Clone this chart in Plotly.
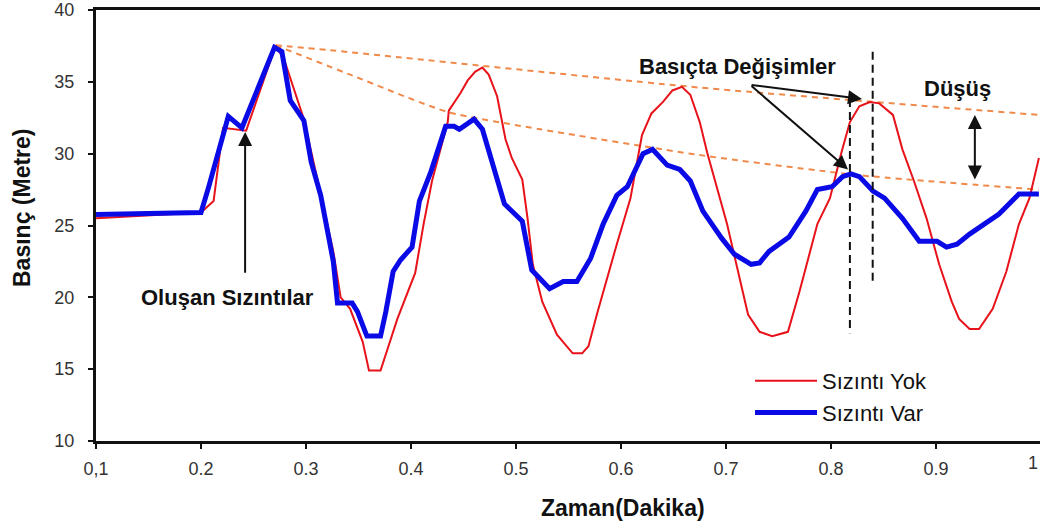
import plotly.graph_objects as go

# Time axis (minutes) and pressure head (metres) for the no-leak run
t_no_leak = [0.100, 0.200, 0.212, 0.221, 0.243, 0.271, 0.279, 0.298, 0.310, 0.326,
             0.333, 0.342, 0.354, 0.360, 0.371, 0.387, 0.404, 0.412, 0.420, 0.435,
             0.436, 0.447, 0.454, 0.461, 0.468, 0.474, 0.482, 0.490, 0.496, 0.506,
             0.511, 0.516, 0.525, 0.539, 0.554, 0.563, 0.569, 0.577, 0.596, 0.609,
             0.620, 0.629, 0.640, 0.649, 0.658, 0.666, 0.675, 0.682, 0.701, 0.710,
             0.721, 0.732, 0.744, 0.759, 0.770, 0.787, 0.799, 0.810, 0.818, 0.827,
             0.837, 0.846, 0.859, 0.868, 0.879, 0.891, 0.903, 0.915, 0.922, 0.932,
             0.941, 0.954, 0.967, 0.979, 0.989, 0.998]
p_no_leak = [25.5, 25.9, 26.7, 31.8, 31.6, 37.5, 36.6, 32.4, 28.5, 23.2,
             20.0, 19.2, 16.9, 14.9, 14.9, 18.5, 21.7, 25.1, 28.1, 32.2,
             33.0, 34.2, 35.1, 35.7, 36.0, 35.5, 34.0, 31.0, 29.7, 28.2,
             25.5, 22.3, 19.7, 17.4, 16.1, 16.1, 16.6, 18.8, 23.7, 26.9,
             31.3, 32.8, 33.6, 34.4, 34.65, 34.1, 32.2, 30.1, 25.1, 22.3,
             18.8, 17.6, 17.3, 17.6, 20.4, 25.1, 26.9, 30.1, 32.2, 33.3,
             33.6, 33.5, 32.7, 30.3, 28.1, 25.5, 22.3, 19.7, 18.5, 17.8,
             17.8, 19.2, 21.8, 25.1, 26.9, 29.7]

# Same network with leaks present
t_leak = [0.100, 0.200, 0.207, 0.226, 0.239, 0.270, 0.277, 0.285, 0.298, 0.305,
          0.314, 0.326, 0.330, 0.344, 0.349, 0.358, 0.371, 0.376, 0.383, 0.390,
          0.401, 0.408, 0.419, 0.433, 0.441, 0.446, 0.460, 0.468, 0.489, 0.506,
          0.515, 0.523, 0.532, 0.545, 0.558, 0.571, 0.583, 0.596, 0.606, 0.621,
          0.630, 0.644, 0.656, 0.666, 0.675, 0.678, 0.696, 0.708, 0.724, 0.732,
          0.741, 0.760, 0.776, 0.787, 0.801, 0.811, 0.819, 0.827, 0.840, 0.851,
          0.868, 0.884, 0.901, 0.910, 0.920, 0.932, 0.960, 0.979, 0.998]
p_leak = [25.76, 25.9, 27.6, 32.6, 31.8, 37.4, 37.1, 33.7, 32.3, 29.4,
          27.1, 22.5, 19.6, 19.6, 19.0, 17.3, 17.3, 19.0, 21.8, 22.6,
          23.5, 26.7, 28.75, 31.9, 31.9, 31.7, 32.4, 31.7, 26.5, 25.3,
          21.9, 21.25, 20.6, 21.1, 21.1, 22.7, 25.1, 27.1, 27.7, 30.0,
          30.3, 29.2, 28.9, 28.1, 26.5, 26.0, 24.1, 23.0, 22.3, 22.4,
          23.2, 24.2, 26.0, 27.5, 27.7, 28.4, 28.6, 28.4, 27.4, 26.9,
          25.5, 23.9, 23.9, 23.5, 23.7, 24.4, 25.8, 27.2, 27.2]

# Envelopes through the successive pressure peaks
t_env_upper = [0.271, 0.323, 0.675, 0.998]
p_env_upper = [37.55, 37.2, 34.6, 32.7]
t_env_lower = [0.271, 0.342, 0.435, 0.523, 0.675, 0.827, 0.998]
p_env_lower = [37.55, 35.5, 32.9, 31.7, 29.9, 28.5, 27.5]

x_ticks = [0.1, 0.2, 0.3, 0.4, 0.5, 0.6, 0.7, 0.8, 0.9]
x_tick_text = ["0,1", "0.2", "0.3", "0.4", "0.5", "0.6", "0.7", "0.8", "0.9"]
y_ticks = [10, 15, 20, 25, 30, 35, 40]

FONT = "Liberation Sans, Arial, sans-serif"
ENV_COLOR = "#f08a4b"
RED = "#e8121a"
BLUE = "#0a0ae6"
INK = "#111"

# Plot-area geometry in pixels
L, T, W, H = 96, 10, 944, 431


def px_to_paper(px, py):
    return (px - L) / W, (T + H - py) / H


fig = go.Figure()

for tx, py in ((t_env_upper, p_env_upper), (t_env_lower, p_env_lower)):
    fig.add_trace(go.Scatter(
        x=tx, y=py, mode="lines", showlegend=False, hoverinfo="skip",
        line=dict(color=ENV_COLOR, width=2, dash="6px,5px", shape="spline", smoothing=0.6),
    ))

fig.add_trace(go.Scatter(
    x=t_no_leak, y=p_no_leak, mode="lines", name="Sızıntı Yok",
    line=dict(color=RED, width=2),
))
fig.add_trace(go.Scatter(
    x=t_leak, y=p_leak, mode="lines", name="Sızıntı Var",
    line=dict(color=BLUE, width=5),
))

# Vertical dashed markers at the two peaks
fig.add_shape(type="line", xref="x", yref="y", x0=0.818, x1=0.818, y0=33.8, y1=17.5,
              line=dict(color=INK, width=2, dash="8px,5px"))
fig.add_shape(type="line", xref="x", yref="y", x0=0.8397, x1=0.8397, y0=37.1, y1=20.8,
              line=dict(color=INK, width=2, dash="8px,5px"))

ARROW = dict(showarrow=True, arrowhead=2, arrowsize=1.4, arrowwidth=2,
             arrowcolor=INK, axref="x", ayref="y", xref="x", yref="y", text="")

zx, zy = px_to_paper(623, 508)
bx, by = px_to_paper(22, 208)
ox, oy = px_to_paper(1040, 463)

annotations = [
    dict(x=0.242, y=31.5, ax=0.242, ay=21.6, **ARROW),
    dict(x=0.8295, y=33.8, ax=0.7229, ay=34.8, **ARROW),
    dict(x=0.8162, y=28.9, ax=0.7229, ay=34.8, **ARROW),
    dict(x=0.937, y=32.7, ax=0.937, ay=28.1, arrowside="end+start", **ARROW),
    dict(x=0.2248, y=20.0, xref="x", yref="y", showarrow=False,
         xanchor="center", yanchor="middle",
         text="<b>Oluşan Sızıntılar</b>", font=dict(family=FONT, size=22, color=INK)),
    dict(x=0.7114, y=36.1, xref="x", yref="y", showarrow=False,
         xanchor="center", yanchor="middle",
         text="<b>Basıçta Değişimler</b>", font=dict(family=FONT, size=22, color=INK)),
    dict(x=0.920, y=34.55, xref="x", yref="y", showarrow=False,
         xanchor="center", yanchor="middle",
         text="<b>Düşüş</b>", font=dict(family=FONT, size=22, color=INK)),
    dict(x=zx, y=zy, xref="paper", yref="paper", showarrow=False,
         xanchor="center", yanchor="middle",
         text="<b>Zaman(Dakika)</b>", font=dict(family=FONT, size=23, color=INK)),
    dict(x=bx, y=by, xref="paper", yref="paper", showarrow=False, textangle=-90,
         xanchor="center", yanchor="middle",
         text="<b>Basınç (Metre)</b>", font=dict(family=FONT, size=23, color=INK)),
    dict(x=ox, y=oy, xref="paper", yref="paper", showarrow=False,
         xanchor="right", yanchor="middle",
         text="1", font=dict(family=FONT, size=18, color="#333")),
]

fig.update_layout(
    width=1040, height=526,
    margin=dict(l=L, r=0, t=T, b=526 - T - H),
    paper_bgcolor="white", plot_bgcolor="white",
    font=dict(family=FONT, color="#333"),
    annotations=annotations,
    showlegend=True,
    legend=dict(x=(750 - L) / W, y=(T + H - 360) / H, xanchor="left", yanchor="top",
                bgcolor="rgba(0,0,0,0)", font=dict(family=FONT, size=22, color=INK),
                itemwidth=62, tracegroupgap=0),
    xaxis=dict(range=[0.1, 0.1 + W / 1050], tickvals=x_ticks, ticktext=x_tick_text,
               showgrid=False, zeroline=False, showline=True, linecolor=INK, linewidth=3,
               mirror=True, ticks="outside", ticklen=5, tickwidth=2, tickcolor=INK,
               tickfont=dict(family=FONT, size=18, color="#333"), ticklabelstandoff=4),
    yaxis=dict(range=[10, 40], tickvals=y_ticks, showgrid=False, zeroline=False,
               showline=True, linecolor=INK, linewidth=3, ticks="outside", ticklen=5,
               tickwidth=2, tickcolor=INK, ticklabeloverflow="allow",
               tickfont=dict(family=FONT, size=18, color="#333"), ticklabelstandoff=10),
)

fig.write_html("out.html")
